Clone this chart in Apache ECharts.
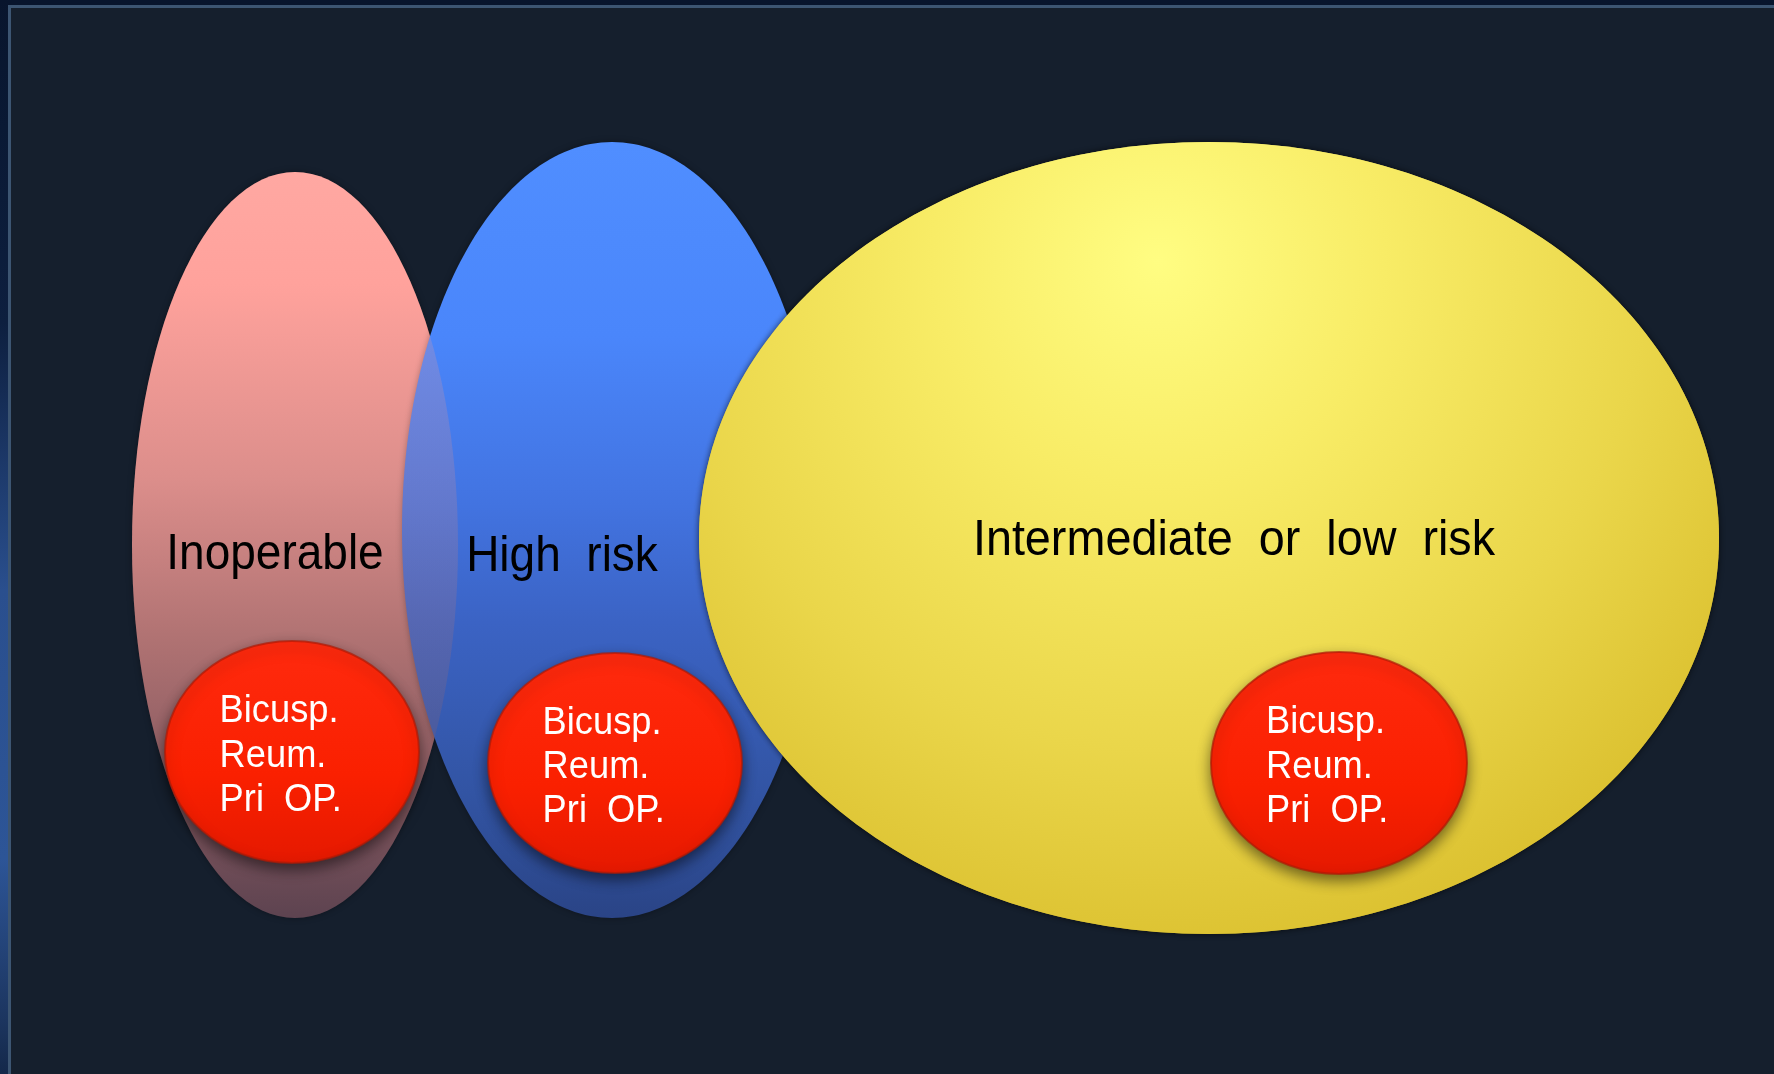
<!DOCTYPE html>
<html>
<head>
<meta charset="utf-8">
<script src="https://cdn.jsdelivr.net/npm/echarts@6/dist/echarts.min.js"></script>
<style>
  html, body { margin: 0; padding: 0; width: 1774px; height: 1074px; overflow: hidden; background: #08152d; }
  #strip { position: absolute; left: 0; top: 0; width: 8px; height: 1074px;
           background: linear-gradient(to bottom, #08152d 0%, #0d1f3f 30%, #2a4f8e 55%, #2d5597 80%, #1c355f 95%, #14284a 100%); }
  #frame { position: absolute; left: 8px; top: 5px; width: 1766px; height: 1069px;
           border-left: 3px solid #3c5572; border-top: 3px solid #3c5572; box-sizing: border-box; background: #151f2d; }
  #chart { position: absolute; left: 11px; top: 8px; width: 1763px; height: 1066px; }
</style>
</head>
<body>
<div id="strip"></div>
<div id="frame"></div>
<div id="chart"></div>
<script>
// ---- data (diagram units = page coordinates) ----
const groups   = ['Inoperable', 'High  risk', 'Intermediate  or  low  risk'];
const groupX   = [295, 612, 1209];   // ellipse centre x
const groupY   = [545, 530, 538];    // ellipse centre y
const groupRX  = [163, 210, 510];    // half width
const groupRY  = [373, 388, 396];    // half height
const labelX   = [275, 562, 1234];
const labelY   = [555, 557, 541];

const subLines = ['Bicusp.', 'Reum.', 'Pri  OP.'];
const subX     = [292, 615, 1339];
const subY     = [752, 763, 763];
const subRX    = [127, 127, 128];
const subRY    = [111, 110, 111];

// ---- styles ----
const pinkFill = { type: 'linear', x: 0, y: 0, x2: 0, y2: 1, colorStops: [
      { offset: 0, color: '#ffa8a2' }, { offset: 0.15, color: '#ffa29c' },
      { offset: 0.41, color: '#dc8e8b' }, { offset: 0.53, color: '#c47f7e' },
      { offset: 0.62, color: '#b17373' }, { offset: 0.8, color: '#8c5c62' },
      { offset: 1, color: '#5d4350' } ] };
const groupFills = [
  pinkFill,
  { type: 'linear', x: 0, y: 0, x2: 0, y2: 1, colorStops: [
      { offset: 0, color: '#508eff' }, { offset: 0.25, color: '#4a86fb' },
      { offset: 0.47, color: '#4273e0' }, { offset: 0.62, color: '#3b63c4' },
      { offset: 0.84, color: '#3254a3' }, { offset: 1, color: '#2a4486' } ] },
  { type: 'radial', x: 0.45, y: 0.15, r: 0.95, colorStops: [
      { offset: 0, color: '#fffd82' }, { offset: 0.3, color: '#f8ec66' },
      { offset: 0.65, color: '#ead64a' }, { offset: 1, color: '#d8bc2a' } ] }
];

const chart = echarts.init(document.getElementById('chart'), null, { renderer: 'canvas' });

function ellipseEl(api, fill, opacity, shadow) {
  const c = api.coord([api.value(0), api.value(1)]);
  const s = api.size([api.value(2), api.value(3)]);
  return {
    type: 'ellipse',
    shape: { cx: c[0], cy: c[1], rx: s[0], ry: s[1] },
    style: {
      fill: fill, opacity: opacity,
      shadowColor: shadow ? 'rgba(0,0,0,0.35)' : 'rgba(0,0,0,0)',
      shadowBlur: shadow ? 6 : 0
    }
  };
}

const option = {
  backgroundColor: 'transparent',
  animation: false,
  grid: { left: 0, right: 0, top: 0, bottom: 0 },
  xAxis: { type: 'value', min: 11, max: 1774, show: false },
  yAxis: { type: 'value', min: 8, max: 1074, inverse: true, show: false },
  series: [
    {
      type: 'custom',
      clip: false,
      z: 1,
      data: groups.map((g, i) => [groupX[i], groupY[i], groupRX[i], groupRY[i]]),
      renderItem: function (params, api) {
        const i = params.dataIndex;
        if (i === 1) {
          // blue, then a translucent veil of the first ellipse where they overlap
          const veil = ellipseEl(api, 'rgba(0,0,0,0)', 1, false);
          return {
            type: 'group',
            children: [
              ellipseEl(api, groupFills[1], 1, true)
            ]
          };
        }
        return ellipseEl(api, groupFills[i], 1, true);
      }
    },
    {
      // translucent overlap veil: the first group drawn again over the second
      type: 'custom',
      clip: false,
      z: 1,
      data: [[groupX[0], groupY[0], groupRX[0], groupRY[0]]],
      renderItem: function (params, api) {
        return ellipseEl(api, pinkFill, 0.22, false);
      }
    },
    {
      // third group drawn after the veil so it stays on top
      type: 'custom',
      clip: false,
      z: 1,
      data: [[groupX[2], groupY[2], groupRX[2], groupRY[2]]],
      renderItem: function (params, api) {
        return ellipseEl(api, groupFills[2], 1, true);
      }
    },
    {
      type: 'custom',
      clip: false,
      z: 2,
      data: groups.map((g, i) => [labelX[i], labelY[i]]),
      renderItem: function (params, api) {
        const i = params.dataIndex;
        const c = api.coord([api.value(0), api.value(1)]);
        return {
          type: 'text',
          x: c[0], y: c[1],
          scaleX: i === 2 ? 0.935 : 0.92,
          style: {
            text: groups[i],
            fill: '#000000',
            font: '50px "Liberation Sans", Arial, sans-serif',
            align: 'center',
            verticalAlign: 'middle'
          }
        };
      }
    },
    {
      type: 'custom',
      clip: false,
      z: 3,
      data: subX.map((x, i) => [x, subY[i], subRX[i], subRY[i]]),
      renderItem: function (params, api) {
        const c = api.coord([api.value(0), api.value(1)]);
        const s = api.size([api.value(2), api.value(3)]);
        const lh = s[1] * 0.40;
        const children = [{
          type: 'ellipse',
          shape: { cx: c[0], cy: c[1], rx: s[0], ry: s[1] },
          style: {
            fill: { type: 'linear', x: 0, y: 0, x2: 0, y2: 1, colorStops: [
              { offset: 0, color: '#ff2a0e' }, { offset: 0.6, color: '#fa2000' }, { offset: 1, color: '#e51900' } ] },
            stroke: 'rgba(175,25,5,0.7)',
            lineWidth: 2,
            shadowColor: 'rgba(0,0,0,0.5)',
            shadowBlur: 14,
            shadowOffsetY: 6
          }
        }];
        subLines.forEach((t, k) => {
          children.push({
            type: 'text',
            x: c[0] - s[0] * 0.57,
            y: c[1] + 4 + (k - 1) * lh,
            scaleX: 0.93,
            style: {
              text: t,
              fill: '#ffffff',
              font: '39px "Liberation Sans", Arial, sans-serif',
              align: 'left',
              verticalAlign: 'middle'
            }
          });
        });
        return { type: 'group', children: children };
      }
    }
  ]
};
chart.setOption(option);
</script>
</body>
</html>
